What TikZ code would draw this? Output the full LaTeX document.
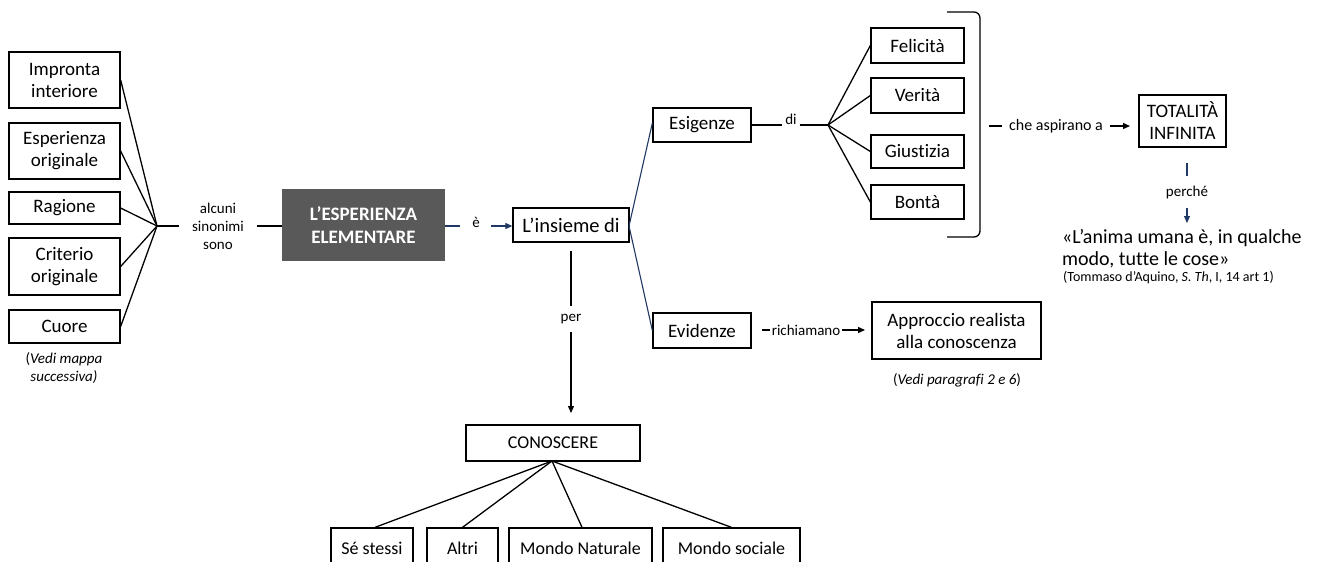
\documentclass[tikz,border=0pt]{standalone}
\usepackage{fontspec}
\setmainfont{Carlito}[Ligatures=NoCommon]
\usetikzlibrary{arrows.meta}
\definecolor{navy}{HTML}{203864}
\definecolor{darkbox}{HTML}{595959}
\begin{document}
\begin{tikzpicture}[x=1pt,y=-1pt,
  every node/.style={inner sep=0pt},
  box/.style={draw, line width=1.3pt, align=center, font=\fontsize{19}{22}\selectfont},
  lbl/.style={align=center, font=\fontsize{15}{18}\selectfont},
  ln/.style={line width=1.3pt},
  nv/.style={draw=navy, line width=1.1pt},
  tip/.style={-{Triangle[length=7pt,width=6pt]}}
]
\clip (0,0) rectangle (1320,562);
\fill[white] (0,0) rectangle (1320,562);

% left boxes
\node[box, minimum width=111pt, minimum height=56pt] (imp) at (64.5,80) {Impronta\\interiore};
\node[box, minimum width=111pt, minimum height=56pt] (esp) at (64.5,151) {Esperienza\\originale};
\node[box, minimum width=111pt, minimum height=32pt] (rag) at (64.5,208) {Ragione};
\node[box, minimum width=111pt, minimum height=57pt] (cri) at (64.5,266.5) {Criterio\\originale};
\node[box, minimum width=111pt, minimum height=33pt] (cuo) at (64.5,326.5) {Cuore};
\node[lbl, font=\fontsize{15}{18}\selectfont\itshape] (vmap) at (64,368) {{\upshape(}Vedi mappa\\successiva)};

\coordinate (J1) at (157,226);
\foreach \n in {imp,esp,rag,cri,cuo} \draw[ln] (\n.east) -- (J1);
\node[lbl, inner xsep=12.5pt] (syn) at (218,226) {alcuni\\sinonimi\\sono};

% dark box
\node[fill=darkbox, minimum width=163pt, minimum height=72pt, align=center, text=white,
  font=\fontsize{19}{23}\selectfont\bfseries] (dark) at (363.5,225) {L’ESPERIENZA\\ELEMENTARE};
\draw[ln] (J1) -- (syn);
\draw[ln] (syn) -- (syn -| dark.west);

% L'insieme di
\node[box, minimum width=116pt, minimum height=34pt, font=\fontsize{20.5}{24}\selectfont] (ins) at (571,225) {L’insieme di};
\node[lbl, inner xsep=8.5pt] (e) at (476,222) {è};
\coordinate (e0) at (460,226);
\coordinate (e1) at (491,226);
\draw[nv] (dark.east |- e0) -- (e0);
\draw[nv, tip] (e1) -- (e1 -| ins.west);

% Esigenze branch
\node[box, minimum width=98pt, minimum height=34pt] (esig) at (702,125) {Esigenze};
\node[box, minimum width=98pt, minimum height=35pt] (evid) at (702,330.5) {Evidenze};
\coordinate (insR) at (629,226);
\draw[nv] (insR) -- ([yshift=2pt]esig.west);
\draw[nv] (insR) -- (evid.west);

\coordinate (J2) at (828,125);
\coordinate (d1) at (782,125);
\coordinate (d2) at (800,125);
\draw[ln] (esig.east) -- (d1);
\draw[ln] (d2) -- (J2);
\node[lbl] (di) at (791,119) {di};

\node[box, minimum width=93pt, minimum height=35pt] (fel) at (917.5,45.5) {Felicità};
\node[box, minimum width=93pt, minimum height=35pt] (ver) at (917.5,95.5) {Verità};
\node[box, minimum width=93pt, minimum height=33pt] (giu) at (917.5,151.5) {Giustizia};
\node[box, minimum width=93pt, minimum height=34pt] (bon) at (917.5,202) {Bontà};
\foreach \n in {fel,ver,giu,bon} \draw[ln] (J2) -- (\n.west);

% bracket
\draw[ln, rounded corners=6pt] (947,12) -- (980,12) -- (980,237) -- (947,237);

% che aspirano a
\node[box, minimum width=87pt, minimum height=52pt] (tot) at (1182.5,121) {TOTALITÀ\\INFINITA};
\node[lbl, font=\fontsize{16}{19}\selectfont, inner xsep=7pt] (asp) at (1056,126) {che aspirano a};
\coordinate (a0) at (989,126);
\coordinate (a1) at (1130,126);
\draw[ln] (a0) -- (asp.west);
\draw[ln, tip] (asp.east) -- (a1);

% perche
\node[lbl, inner ysep=9pt] (perche) at (1187,192) {perché};
\coordinate (p0) at (1187,163);
\coordinate (p1) at (1187,223);
\draw[nv] (p0) -- (perche.north);
\draw[nv, tip] (perche.south) -- (p1);
\node[anchor=west, font=\fontsize{20}{24}\selectfont] (q1) at (1062,238) {«L’anima umana è, in qualche};
\node[anchor=west, font=\fontsize{20}{24}\selectfont] (q2) at (1062,260) {modo, tutte le cose»};
\node[anchor=west, font=\fontsize{14}{17}\selectfont] (cit) at (1063,278) {(Tommaso d’Aquino, \textit{S. Th}, I, 14 art 1)};

% Evidenze branch
\node[box, minimum width=169pt, minimum height=57pt] (appr) at (956.5,330.5) {Approccio realista\\alla conoscenza};
\node[lbl, inner xsep=2pt] (ric) at (806,330) {richiamano};
\coordinate (r2) at (762,330);
\coordinate (r3) at (865,330);
\draw[ln] (r2) -- (ric.west);
\draw[ln, tip] (ric.east) -- (r3);
\node[lbl] (vpar) at (957,380) {(\textit{Vedi paragrafi 2 e 6})};

% per -> CONOSCERE
\node[box, minimum width=174pt, minimum height=36pt, font=\fontsize{18}{22}\selectfont] (con) at (553,443) {CONOSCERE};
\node[lbl, inner ysep=8pt] (per) at (571,319) {per};
\coordinate (r0) at (571,251);
\coordinate (r1) at (571,413);
\draw[ln] (r0) -- (per.north);
\draw[ln, tip] (per.south) -- (r1);

\coordinate (J3) at (552,461);
\node[box, minimum width=82pt, minimum height=40pt, font=\fontsize{18}{22}\selectfont] (se) at (372,548) {Sé stessi};
\node[box, minimum width=71pt, minimum height=40pt, font=\fontsize{18}{22}\selectfont] (alt) at (462.5,548) {Altri};
\node[box, minimum width=143pt, minimum height=40pt, font=\fontsize{18}{22}\selectfont] (mn) at (580.5,548) {Mondo Naturale};
\node[box, minimum width=137pt, minimum height=40pt, font=\fontsize{18}{22}\selectfont] (ms) at (731.5,548) {Mondo sociale};
\draw[ln] (J3) -- ([xshift=3pt]se.north);
\draw[ln] (J3) -- (alt.north);
\draw[ln] (J3) -- ([xshift=1.5pt]mn.north);
\draw[ln] (J3) -- (ms.north);
\end{tikzpicture}
\end{document}
